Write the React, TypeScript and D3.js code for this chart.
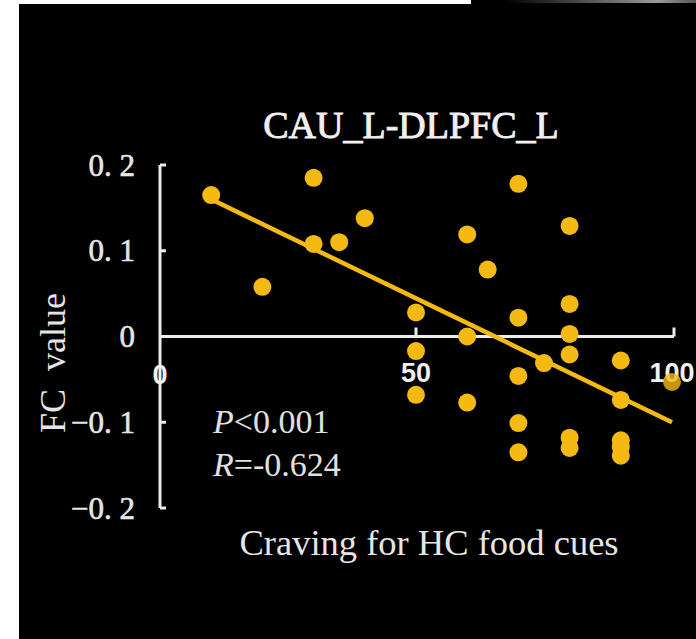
import React from "react";
import * as d3 from "d3";

const cravingX = [10, 20, 30, 30, 35, 40, 50, 50, 50, 60, 60, 60, 64, 70, 70, 70, 70, 70, 75, 80, 80, 80, 80, 80, 80, 90, 90, 90, 90, 90, 100];
const fcValueY = [0.165, 0.058, 0.185, 0.108, 0.11, 0.138, 0.028, -0.017, -0.068, 0.119, 0.0, -0.077, 0.078, 0.178, 0.022, -0.046, -0.101, -0.135, -0.031, 0.129, 0.038, 0.003, -0.021, -0.118, -0.13, -0.028, -0.074, -0.121, -0.129, -0.139, -0.053];
const fitX = [10, 100];
const fitY = [0.16, -0.1];
const yTicks = [0.2, 0.1, 0, -0.1, -0.2];
const yTickLabels = ["0. 2", "0. 1", "0", "\u22120. 1", "\u22120. 2"];
const xTicks = [0, 50, 100];
const xTickLabels = ["0", "50", "100"];
const title = "CAU_L-DLPFC_L";
const xTitle = "Craving for HC food cues";
const yTitle = "FC\u00A0 value";

const W = 696;
const H = 639;
const DOT = "#F5BA12";
const AX = "#ececec";
const SERIF = "'Liberation Serif', 'Times New Roman', serif";
const SANS = "'Liberation Sans', Arial, sans-serif";

export default function App() {
  const x = d3.scaleLinear().domain([0, 100]).range([160, 672]);
  const y = d3.scaleLinear().domain([-0.2, 0.2]).range([508, 165]);
  const line = d3
    .line<number>()
    .x((d) => x(d))
    .y((_, i) => y(fitY[i]));
  const pts = cravingX.map((v, i) => ({ x: v, y: fcValueY[i] }));
  const last = pts.length - 1;
  const x0 = x(0);
  const y0 = y(0);

  return (
    <svg
      width={W}
      height={H}
      style={{ position: "absolute", left: 0, top: 0, display: "block" }}
    >
      <defs>
        <linearGradient id="topg" x1="0" x2="1" y1="0" y2="0">
          <stop offset="0" stopColor="#000" />
          <stop offset="0.8" stopColor="#9a9a9a" />
          <stop offset="1" stopColor="#555" />
        </linearGradient>
      </defs>
      <rect x={0} y={0} width={W} height={H} fill="#fff" />
      <rect x={19} y={4} width={W - 19} height={H - 4} fill="#000" />
      <rect x={471} y={0} width={W - 471} height={5} fill="#000" />
      <rect x={505} y={0} width={W - 505} height={3} fill="url(#topg)" />

      <text
        x={411}
        y={138}
        fill="#f0f0f0"
        stroke="#f0f0f0"
        strokeWidth={0.9}
        fontFamily={SERIF}
        fontSize={38}
        textAnchor="middle"
      >
        {title}
      </text>

      {/* y axis */}
      <line x1={x0} x2={x0} y1={y(0.2)} y2={y(-0.2)} stroke={AX} strokeWidth={3} />
      {yTicks.map((t) =>
        t === 0 ? null : (
          <line key={t} x1={x0} x2={x0 + 6} y1={y(t)} y2={y(t)} stroke={AX} strokeWidth={3} />
        )
      )}
      {/* x axis */}
      <line x1={x0} x2={x(100) + 2} y1={y0} y2={y0} stroke={AX} strokeWidth={3} />
      {xTicks.slice(1).map((t) => (
        <line key={t} x1={x(t) + (t === 100 ? 2 : 0)} x2={x(t) + (t === 100 ? 2 : 0)} y1={y0} y2={y0 - 9} stroke={AX} strokeWidth={3} />
      ))}

      {yTicks.map((t, i) => (
        <text
          key={t}
          x={135}
          y={y(t)}
          fill="#e6e6e6"
          stroke="#e6e6e6"
          strokeWidth={0.6}
          fontFamily={SERIF}
          fontSize={31}
          textAnchor="end"
          dominantBaseline="central"
        >
          {yTickLabels[i]}
        </text>
      ))}

      <text
        transform={`translate(53,363) rotate(-90)`}
        fill="#e6e6e6"
        fontFamily={SERIF}
        fontSize={36}
        textAnchor="middle"
        dominantBaseline="central"
        style={{ whiteSpace: "pre" }}
      >
        {yTitle}
      </text>

      <path d={line(fitX) || ""} fill="none" stroke={DOT} strokeWidth={4.5} />

      {pts.map((p, i) =>
        i === last ? null : (
          <circle key={i} cx={x(p.x)} cy={y(p.y)} r={9} fill={DOT} />
        )
      )}

      {xTicks.map((t, i) => (
        <text
          key={t}
          x={x(t)}
          y={t === 0 ? 375 : 373}
          fill="#f0f0f0"
          fontFamily={SANS}
          fontWeight="bold"
          fontSize={27}
          textAnchor="middle"
          dominantBaseline="central"
        >
          {xTickLabels[i]}
        </text>
      ))}

      <circle cx={x(pts[last].x)} cy={y(pts[last].y)} r={9} fill={DOT} opacity={0.8} />

      <text x={213} y={433} fill="#e0e0e0" fontFamily={SERIF} fontSize={34}>
        <tspan fontStyle="italic">P</tspan>
        <tspan>{"<0.001"}</tspan>
      </text>
      <text x={213} y={476} fill="#e0e0e0" fontFamily={SERIF} fontSize={34}>
        <tspan fontStyle="italic">R</tspan>
        <tspan>{"=-0.624"}</tspan>
      </text>

      <text
        x={429}
        y={555}
        fill="#e6e6e6"
        fontFamily={SERIF}
        fontSize={36.5}
        textAnchor="middle"
      >
        {xTitle}
      </text>
    </svg>
  );
}
